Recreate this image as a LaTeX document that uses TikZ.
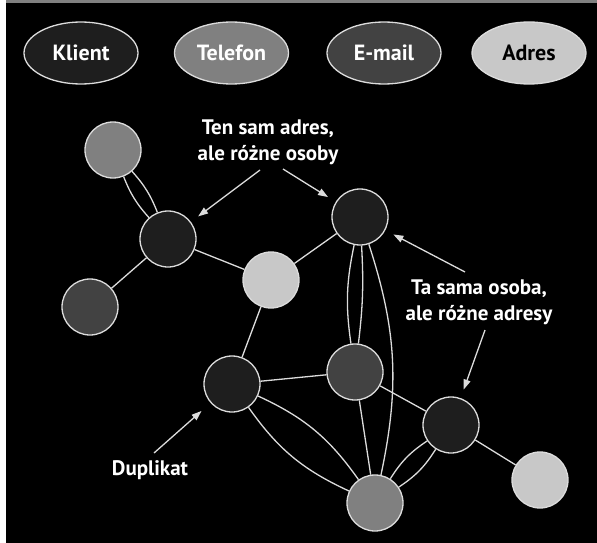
\documentclass[tikz,border=0pt]{standalone}
\usepackage{fontspec}
\setmainfont{PT Sans}
\usetikzlibrary{arrows.meta, positioning, shapes.geometric}

\definecolor{klient}{HTML}{1E1E1E}
\definecolor{telefon}{HTML}{808080}
\definecolor{email}{HTML}{424242}
\definecolor{adres}{HTML}{C8C8C8}
\definecolor{obrys}{HTML}{DCDCDC}

\begin{document}
\begin{tikzpicture}[x=1pt, y=-1pt,
            osoba/.style={circle, draw=obrys, line width=1.3pt, minimum size=56pt, inner sep=0pt},
            legenda/.style={ellipse, draw=obrys, line width=1.3pt, minimum width=114pt,
                minimum height=62pt, inner sep=0pt, font=\fontsize{22}{26}\selectfont\bfseries},
            opis/.style={text=white, align=center, font=\fontsize{21}{26}\selectfont\bfseries},
            krawedz/.style={draw=obrys, line width=1.3pt},
            strzalka/.style={draw=obrys, line width=1.3pt, -{Triangle[length=10pt,width=7pt]}, shorten >=9pt}
        ]

        \fill[white] (0,0) rectangle (597,543);
        \fill[black] (6,0) rectangle (597,543);
        \fill[gray] (6,0) rectangle (597,3);
        \useasboundingbox (0,0) rectangle (597,543);

        \node[legenda, fill=klient, text=white] (lk) at (81,53) {Klient};
        \node[legenda, fill=telefon, text=white] (lt) at (231.5,53) {Telefon};
        \node[legenda, fill=email, text=white] (le) at (384,53) {E-mail};
        \node[legenda, fill=adres, text=black] (la) at (529,53) {Adres};

        \node[osoba, fill=telefon] (t1) at (113,150) {};
        \node[osoba, fill=klient] (k1) at (168,239) {};
        \node[osoba, fill=email] (e1) at (90,307) {};
        \node[osoba, fill=adres] (a1) at (271,280) {};
        \node[osoba, fill=klient] (k2) at (360,217) {};
        \node[osoba, fill=klient] (k3) at (232,384) {};
        \node[osoba, fill=email] (e2) at (355,372) {};
        \node[osoba, fill=klient] (k4) at (451,425) {};
        \node[osoba, fill=telefon] (t2) at (375,503) {};
        \node[osoba, fill=adres] (a2) at (540,480) {};

        \draw[krawedz] (t1) to[bend left=10] (k1);
        \draw[krawedz] (t1) to[bend right=10] (k1);
        \draw[krawedz] (k1) -- (e1);
        \draw[krawedz] (k1) -- (a1);
        \draw[krawedz] (a1) -- (k2);
        \draw[krawedz] (a1) -- (k3);
        \draw[krawedz] (k2) to[bend right=10] (e2);
        \draw[krawedz] (k2) to[bend left=5] (e2);
        \draw[krawedz] (k2) to[bend left=15] (t2);
        \draw[krawedz] (k3) -- (e2);
        \draw[krawedz] (e2) -- (k4);
        \draw[krawedz] (e2) -- (t2);
        \draw[krawedz] (k3) to[bend left=15] (t2);
        \draw[krawedz] (k3) to[bend right=15] (t2);
        \draw[krawedz] (k4) to[bend left=12] (t2);
        \draw[krawedz] (k4) to[bend right=12] (t2);
        \draw[krawedz] (k4) -- (a2);

        \node[opis] (tsa) at (268,142) {Ten sam adres,\\ale różne osoby};
        \node[opis] (tso) at (479,302) {Ta sama osoba,\\ale różne adresy};
        \node[opis] (dup) at (150,470) {Duplikat};

        \coordinate (s1) at (260,170);
        \coordinate (s2) at (283,169);
        \coordinate (s3) at (465,272);
        \coordinate (s4) at (485,330);
        \coordinate (s5) at (154,453);

        \draw[strzalka] (s1) -- (k1);
        \draw[strzalka] (s2) -- (k2);
        \draw[strzalka] (s3) -- (k2);
        \draw[strzalka] (s4) -- (k4);
        \draw[strzalka, shorten >=12pt] (s5) -- (k3);

    \end{tikzpicture}
\end{document}
